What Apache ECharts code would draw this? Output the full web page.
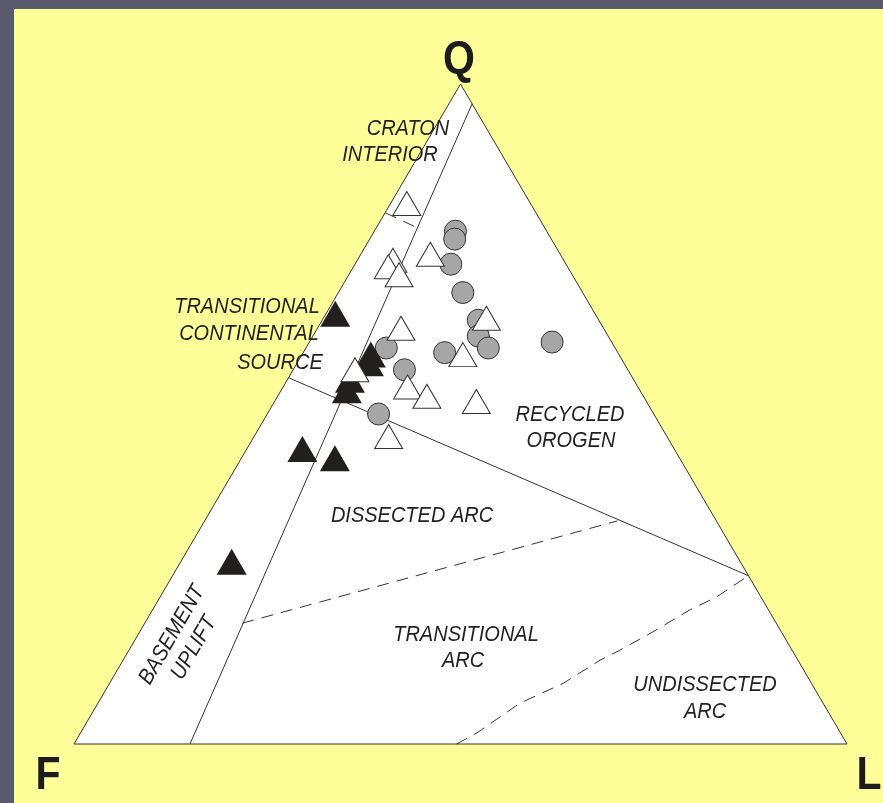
<!DOCTYPE html>
<html>
<head>
<meta charset="utf-8">
<title>QFL</title>
<script src="https://cdn.jsdelivr.net/npm/echarts@6/dist/echarts.min.js"></script>
<style>
  html, body {
    margin: 0;
    padding: 0;
    width: 883px;
    height: 803px;
    overflow: hidden;
    background: #595b6d;
  }
  .canvas2d {
    position: absolute;
    left: 14px;
    top: 9px;
    width: 869px;
    height: 794px;
    background: #ffff99;
  }
</style>
</head>
<body>
<div id="qfl" class="canvas2d"></div>
<script>
// all compositions are [Q, F, L] in percent
const vertices = [[100, 0, 0], [0, 100, 0], [0, 0, 100]];
const boundaryA = [[97, 0, 3], [0, 85, 15]];
const boundaryB = [[80.5, 19.5, 0], [78.3, 16.6, 5.1]];
const boundaryC = [[55.5, 44.5, 0], [25.5, 0, 74.5]];
const boundaryD = [[18.3, 69.1, 12.6], [33.8, 12.8, 53.4]];
const boundaryE = [
  [0, 50.5, 49.5], [1.7, 47.0, 51.3], [6.2, 39.2, 54.6], [9.2, 32.1, 58.7],
  [12.7, 25.6, 61.7], [14.2, 22.3, 63.5], [17.0, 16.6, 66.4], [20.3, 10.2, 69.5],
  [22.3, 5.7, 72.0], [25.5, 0, 74.5],
];
const greyCircles = [
  [77.7, 11.8, 10.5], [76.5, 12.5, 11.0], [72.7, 14.9, 12.4], [68.4, 15.5, 16.1],
  [64.2, 15.6, 20.2], [61.8, 16.8, 21.4], [60.0, 16.4, 23.6], [60.9, 7.7, 31.4],
  [59.3, 22.4, 18.3], [60.0, 29.6, 10.4], [56.7, 28.9, 14.4], [50.0, 35.6, 14.4],
];
const blackTriangles = [
  [65.2, 33.6, 1.2], [59.0, 32.1, 8.9], [57.7, 33.0, 9.3], [55.2, 36.7, 8.1],
  [53.6, 37.9, 8.5], [44.7, 48.1, 7.2], [43.3, 44.6, 12.1], [27.6, 65.8, 6.6],
];
const openTriangles = [
  [81.9, 16.0, 2.1], [74.2, 16.8, 9.0], [73.3, 22.1, 4.6], [72.3, 23.2, 4.5],
  [71.1, 22.4, 6.5], [64.5, 14.4, 21.1], [63.0, 26.2, 10.8], [59.0, 20.2, 20.8],
  [56.7, 35.3, 8.0], [54.1, 29.8, 16.1], [52.7, 28.0, 19.3], [51.9, 22.0, 26.1],
  [46.6, 36.0, 17.4],
];
const apexNames = ['Q', 'F', 'L'];
const fieldNames = [
  'CRATON', 'INTERIOR', 'TRANSITIONAL', 'CONTINENTAL', 'SOURCE', 'RECYCLED', 'OROGEN',
  'DISSECTED ARC', 'TRANSITIONAL', 'ARC', 'UNDISSECTED', 'ARC', 'BASEMENT', 'UPLIFT',
];

// layout of the texts, pixels in the chart box
const apexPos = [[445, 51], [34, 767], [855, 767]];
const fieldPos = [
  [394, 120], [376, 146], [233, 298], [235, 325], [266, 354], [556, 406], [557, 432],
  [398, 507], [452, 626], [449, 652], [691, 676], [691, 703], [158, 626], [180, 639],
];
const fieldRot = [0, 0, 0, 0, 0, 0, 0, 0, 0, 0, 0, 0, 60, 60];

// ternary -> cartesian (F at 0,0; L at 100,0; Q at 50,100)
const toXY = (p) => [p[2] + p[0] / 2, p[0]];

let charts = null;

const lineSeries = (data, dashed) => ({
  type: 'line',
  data: data.map(toXY),
  symbol: 'none',
  silent: true,
  z: 3,
  lineStyle: {
    color: '#333',
    width: 1,
    type: dashed ? [12, 8] : 'solid',
  },
});

const getChart = () => {
  charts = echarts.init(document.getElementById('qfl'));
  const graphic = [];
  apexNames.forEach((name, i) => {
    graphic.push({
      type: 'text',
      x: apexPos[i][0],
      y: apexPos[i][1],
      scaleY: 1.12,
      z: 10,
      style: {
        text: name,
        fill: '#1c1c1c',
        font: 'bold 41px "Liberation Sans", Arial, sans-serif',
        align: 'center',
        verticalAlign: 'middle',
      },
    });
  });
  fieldNames.forEach((name, i) => {
    graphic.push({
      type: 'text',
      x: fieldPos[i][0],
      y: fieldPos[i][1],
      rotation: (fieldRot[i] * Math.PI) / 180,
      scaleY: 1.1,
      z: 10,
      style: {
        text: name,
        fill: '#222',
        font: 'italic 20px "Liberation Sans", Arial, sans-serif',
        align: 'center',
        verticalAlign: 'middle',
      },
    });
  });

  const option = {
    animation: false,
    grid: {
      left: 60,
      top: 75,
      width: 773,
      height: 660,
    },
    xAxis: { type: 'value', min: 0, max: 100, show: false },
    yAxis: { type: 'value', min: 0, max: 100, show: false },
    graphic: graphic,
    series: [
      {
        type: 'custom',
        silent: true,
        z: 1,
        data: [[0, 0]],
        renderItem: (params, api) => ({
          type: 'polygon',
          shape: { points: vertices.map((v) => api.coord(toXY(v))) },
          style: { fill: '#fff', stroke: '#333', lineWidth: 1 },
        }),
      },
      lineSeries(boundaryA, false),
      lineSeries(boundaryB, true),
      lineSeries(boundaryC, false),
      lineSeries(boundaryD, true),
      lineSeries(boundaryE, true),
      {
        type: 'scatter',
        z: 4,
        data: greyCircles.map(toXY),
        symbol: 'circle',
        symbolSize: 22,
        itemStyle: { color: '#a6a6a6', borderColor: '#333', borderWidth: 1, opacity: 1 },
      },
      {
        type: 'scatter',
        z: 5,
        data: blackTriangles.map(toXY),
        symbol: 'triangle',
        symbolSize: [30, 26],
        itemStyle: { color: '#231f1c', opacity: 1 },
      },
      {
        type: 'scatter',
        z: 6,
        data: openTriangles.map(toXY),
        symbol: 'triangle',
        symbolSize: [28, 24],
        itemStyle: { color: '#fff', borderColor: '#333', borderWidth: 1, opacity: 1 },
      },
    ],
  };
  charts.setOption(option);
};

getChart();
</script>
</body>
</html>
